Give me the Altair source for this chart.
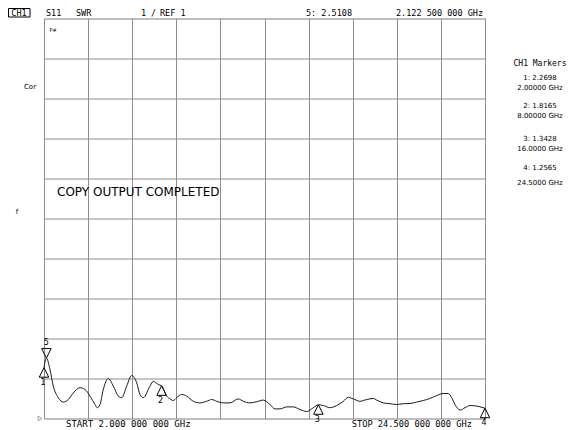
import altair as alt
import pandas as pd

# ---- trace data (frequency in GHz, SWR) ----
freq = [2.0, 2.1225, 2.306, 2.474, 2.73, 2.985, 3.24, 3.495, 3.837, 4.092,
        4.347, 4.602, 4.719, 4.857, 5.025, 5.281, 5.536, 5.791, 5.964, 6.219,
        6.474, 6.73, 6.898, 7.066, 7.408, 7.577, 7.832, 8.0, 8.26, 8.428,
        8.597, 8.77, 9.025, 9.28, 9.617, 9.959, 10.30, 10.556, 10.81, 11.148,
        11.49, 11.913, 12.168, 12.51, 12.852, 13.19, 13.53, 13.786, 14.04, 14.383,
        14.72, 15.06, 15.403, 15.74, 16.0, 16.25, 16.59, 16.934, 17.27, 17.525,
        17.78, 18.12, 18.464, 18.80, 18.974, 19.31, 19.653, 19.995, 20.33, 20.673,
        21.015, 21.35, 21.69, 22.036, 22.372, 22.627, 22.80, 22.97, 23.224, 23.48,
        23.735, 24.077, 24.41, 24.5]
swr = [2.2698, 2.5108, 2.225, 1.81, 1.52, 1.41, 1.475, 1.64, 1.77, 1.725,
       1.56, 1.35, 1.27, 1.35, 1.725, 2.0, 1.81, 1.56, 1.52, 1.81,
       2.075, 1.89, 1.60, 1.52, 1.81, 1.93, 1.85, 1.8165, 1.56, 1.49,
       1.45, 1.52, 1.60, 1.56, 1.43, 1.39, 1.43, 1.475, 1.43, 1.39,
       1.39, 1.49, 1.43, 1.39, 1.42, 1.46, 1.35, 1.24, 1.24, 1.29,
       1.29, 1.225, 1.175, 1.27, 1.3428, 1.325, 1.27, 1.325, 1.43, 1.53,
       1.49, 1.43, 1.475, 1.50, 1.46, 1.39, 1.37, 1.35, 1.37, 1.375,
       1.41, 1.45, 1.50, 1.575, 1.625, 1.625, 1.52, 1.35, 1.21, 1.27,
       1.325, 1.31, 1.27, 1.2565]

# ---- markers ----
mk_num = ["1", "2", "3", "4", "5"]
mk_freq = [2.0, 8.0, 16.0, 24.5, 2.1225]
mk_swr = [2.2698, 1.8165, 1.3428, 1.2565, 2.5108]
mk_dir = ["up", "up", "up", "up", "down"]
mk_freq_label = ["2.00000 GHz", "8.00000 GHz", "16.0000 GHz", "24.5000 GHz", "2.122 500 000 GHz"]

start_ghz, stop_ghz = 2.0, 24.5
ref_val, per_div = 1, 1

trace = pd.DataFrame({"f": freq, "s": swr})
markers = pd.DataFrame({"n": mk_num, "f": mk_freq, "s": mk_swr, "d": mk_dir})

W, H = 441, 400
FONT = "DejaVu Sans"
MONO = "DejaVu Sans Mono"
GRID = "#8c8c8c"

xs = alt.Scale(domain=[start_ghz, stop_ghz], nice=False, zero=False)
ys = alt.Scale(domain=[ref_val, ref_val + 10 * per_div], nice=False, zero=False)
xgrid = [start_ghz + i * (stop_ghz - start_ghz) / 10 for i in range(11)]
ygrid = [ref_val + i * per_div for i in range(11)]

xax = alt.Axis(values=xgrid, grid=True, labels=False, ticks=False, domain=False,
               title=None, gridColor=GRID, gridOpacity=1, gridWidth=1)
yax = alt.Axis(values=ygrid, grid=True, labels=False, ticks=False, domain=False,
               title=None, gridColor=GRID, gridOpacity=1, gridWidth=1)

XE = alt.X("f:Q", scale=xs, axis=xax)
YE = alt.Y("s:Q", scale=ys, axis=yax)

line = alt.Chart(trace).mark_line(color="#1a1a1a", strokeWidth=1, interpolate="monotone").encode(
    x=XE, y=YE,
)

mbase = alt.Chart(markers)
up_tri = mbase.transform_filter(alt.datum.d == "up").mark_point(
    shape="M0,0L-1,2L1,2Z", size=90, filled=False, color="#000", strokeWidth=1, opacity=1
).encode(x=XE, y=YE)
down_tri = mbase.transform_filter(alt.datum.d == "down").mark_point(
    shape="M0,0L-1,-2L1,-2Z", size=90, filled=False, color="#000", strokeWidth=1, opacity=1
).encode(x=XE, y=YE)
up_lab = mbase.transform_filter(alt.datum.d == "up").mark_text(
    font=FONT, fontSize=8, dy=15, dx=-1, color="#000"
).encode(x=XE, y=YE, text="n:N")
down_lab = mbase.transform_filter(alt.datum.d == "down").mark_text(
    font=FONT, fontSize=8, dy=-15, color="#000"
).encode(x=XE, y=YE, text="n:N")

ref_mark = alt.Chart(pd.DataFrame({"s": [ref_val]})).mark_point(
    shape="triangle-right", size=20, filled=False, color="#555", strokeWidth=0.8
).encode(x=alt.value(-4), y=YE)


def label(text, x, y, size=8, align="left", font=FONT):
    return alt.Chart(pd.DataFrame({"t": [text]})).mark_text(
        font=font, fontSize=size, align=align, baseline="middle", color="#000"
    ).encode(x=alt.value(x), y=alt.value(y), text="t:N")


ox, oy = 36, 10.5  # plot origin offset inside the svg

def P(px, py):
    return px - 8 - ox, py - 8 - oy


texts = []
HY = 12.5
# header
for t, px, al in [("CH1", 19, "center"), ("S11", 46, "left"), ("SWR", 76, "left"),
                  (f"{per_div}", 141, "left"), ("/", 151, "left"), (f"REF {ref_val}", 160, "left"),
                  (f"{mk_num[4]}: {mk_swr[4]:.4f}", 306, "left"),
                  (mk_freq_label[4], 483, "right")]:
    x, y = P(px, HY)
    texts.append(label(t, x, y, 8.5, al, MONO))

bx0, by0 = P(8.5, 8.5)
bx1, by1 = P(30, 17)
box = alt.Chart(pd.DataFrame({"a": [0]})).mark_rect(
    filled=False, stroke="#000", strokeWidth=1
).encode(x=alt.value(bx0), x2=alt.value(bx1), y=alt.value(by0), y2=alt.value(by1))

# left side
for t, px, py in [("Cor", 30, 87), ("f", 17, 212)]:
    x, y = P(px, py)
    texts.append(label(t, x, y, 7, "center"))
x, y = P(53, 30)
texts.append(label("P#", x, y, 5, "center"))

# message
x, y = P(57, 192)
texts.append(label("COPY OUTPUT COMPLETED", x, y, 12, "left"))

# bottom
x, y = P(66, 424)
texts.append(label(f"START {start_ghz:.3f} 000 000 GHz", x, y, 9, "left", MONO))
x, y = P(472, 424)
texts.append(label(f"STOP {stop_ghz:.3f} 000 000 GHz", x, y, 8.7, "right", MONO))

# marker table
x, y = P(540, 64)
texts.append(label("CH1 Markers", x, y, 8, "center", MONO))
tab_y = [(78, 88), (106, 116), (139, 149), (168, 183)]
for i in range(4):
    x, y = P(540, tab_y[i][0])
    texts.append(label(f"{mk_num[i]}: {mk_swr[i]:.4f}", x, y, 7, "center"))
    x, y = P(540, tab_y[i][1])
    texts.append(label(mk_freq_label[i], x, y, 7, "center"))

chart = alt.layer(line, up_tri, down_tri, up_lab, down_lab, ref_mark, box, *texts).properties(
    width=W, height=H,
    autosize=alt.AutoSizeParams(type="none"),
    padding={"left": ox, "top": oy, "right": 577 - 16 - ox - W, "bottom": 10},
).configure_view(stroke=GRID, strokeWidth=1).configure(background="white")

chart.save("out.html", embed_options={"renderer": "svg", "actions": False})
